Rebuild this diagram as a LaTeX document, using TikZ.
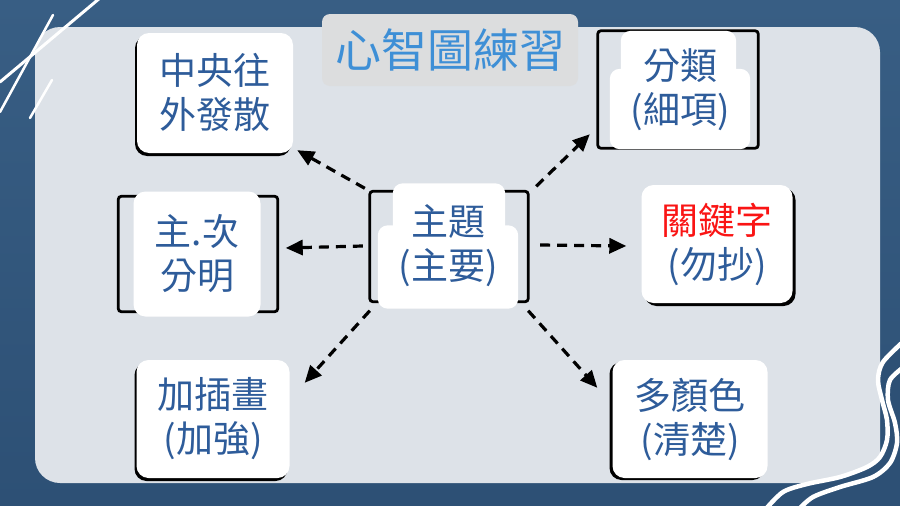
\documentclass[tikz,border=0pt]{standalone}
\usepackage{fontspec}
\usetikzlibrary{arrows.meta,positioning,shadows}
\newfontfamily\cjk{Noto Sans CJK TC}
\definecolor{bgblue}{RGB}{45,80,117}
\definecolor{bgbluelight}{RGB}{56,94,132}
\definecolor{panelgrey}{RGB}{221,226,232}
\definecolor{titlegrey}{RGB}{220,221,222}
\definecolor{titleblue}{RGB}{62,143,214}
\definecolor{textblue}{RGB}{46,92,154}
\definecolor{keyred}{RGB}{250,20,20}
\pgfdeclarelayer{back}
\pgfdeclarelayer{frames}
\pgfsetlayers{back,frames,main}

\begin{document}
\begin{tikzpicture}[x=1pt, y=-1pt,
    card/.style={rectangle, fill=white, rounded corners=12pt, inner sep=0pt,
        align=center, text=textblue, font=\cjk\fontsize{37}{44}\selectfont},
    tabcard/.style={card, fill=none},
    inked/.style 2 args={drop shadow={fill=black, opacity=1,
        shadow xshift=#1, shadow yshift=#2}},
    inkframe/.style={draw=black, line width=2.8pt, rounded corners=3pt},
    tabfill/.style={fill=white, rounded corners=10pt},
    arr/.style={-{Triangle[length=17pt,width=15pt]}, line width=3.2pt,
        dash pattern=on 10pt off 7pt, black}
]
    \useasboundingbox (0,0) rectangle (900,506);
    \begin{pgfonlayer}{back}
    \shade[top color=bgbluelight, bottom color=bgblue] (0,0) rectangle (900,506);
    \fill[panelgrey, rounded corners=25pt] (35,27) rectangle (880,483);

    % strokes, top left and bottom right
    \draw[white, line width=3pt, line cap=round] (0,82) -- (100,-2);
    \draw[white, line width=2.5pt, line cap=round] (0,112) -- (53,15);
    \draw[white, line width=2.5pt, line cap=round] (30,118) -- (52,80);
    \fill[bgblue] plot[smooth] coordinates {(905,340) (883,362) (878,380) (882,400)
        (887,420) (887,440) (880,457) (867,467) (840,477) (807,484) (783,492) (765,510)}
        -- (905,510) -- cycle;
    \draw[white, line width=4.5pt] plot[smooth] coordinates {(905,340) (883,362) (878,380)
        (882,400) (887,420) (887,440) (880,457) (867,467) (840,477) (807,484) (783,492) (765,510)};
    \draw[white, line width=4.5pt] plot[smooth] coordinates {(905,366) (890,380) (888,400)
        (895,423) (897,443) (890,463) (873,477) (840,487) (813,497) (798,510)};
    \end{pgfonlayer}

    \node[fill=titlegrey, rounded corners=8pt, minimum width=256pt, minimum height=72pt,
        text=titleblue, font=\cjk\fontsize{46}{50}\selectfont] (title) at (450,50) {心智圖練習};

    \node[card, inked={-2pt}{-3pt}, minimum width=156pt, minimum height=120pt] (spread) at (215,93) {中央往\\外發散};
    \node[tabcard, minimum width=140pt, minimum height=118pt] (classify) at (680,90) {分類\\(細項)};
    \node[tabcard, minimum width=140pt, minimum height=125pt] (topic) at (448,246) {主題\\(主要)};
    \node[card, minimum width=127pt, minimum height=125pt] (rank) at (197,254) {主.次\\分明};
    \node[card, inked={3pt}{-3pt}, minimum width=151pt, minimum height=118pt] (keyword) at (717,244) {\textcolor{keyred}{關鍵字}\\(勿抄)};
    \node[card, inked={-2pt}{-3pt}, minimum width=153pt, minimum height=118pt] (sketch) at (213,419) {加插畫\\(加強)};
    \node[card, inked={-3pt}{-2pt}, minimum width=155pt, minimum height=118pt] (colours) at (690,419) {多顏色\\(清楚)};

    \begin{pgfonlayer}{frames}
        \draw[inkframe] ([shift={(-12,0)}]classify.north west) rectangle ([shift={(8,-1)}]classify.south east);
        \fill[tabfill] ([shift={(11,0)}]classify.north west) rectangle ([shift={(-14,-70)}]classify.south east);
        \fill[tabfill] ([shift={(0,38)}]classify.north west) rectangle (classify.south east);
        \draw[inkframe] ([shift={(-8,8)}]topic.north west) rectangle ([shift={(10,-7)}]topic.south east);
        \fill[tabfill] ([shift={(15,0)}]topic.north west) rectangle ([shift={(-13,-74)}]topic.south east);
        \fill[tabfill] ([shift={(0,42)}]topic.north west) rectangle (topic.south east);
        \draw[inkframe] ([shift={(-15,5)}]rank.north west) rectangle ([shift={(17,-5)}]rank.south east);
    \end{pgfonlayer}

    \draw[arr] ([shift={(-13,5)}]topic.north west) -- ([shift={(4,-3)}]spread.south east);
    \draw[arr] ([shift={(-15,0)}]topic.west) -- ([shift={(25,-6)}]rank.east);
    \draw[arr] ([shift={(-8,2)}]topic.south west) -- ([shift={(15,23)}]sketch.north east);
    \draw[arr] ([shift={(18,3)}]topic.north east) -- ([shift={(-20,-15)}]classify.south west);
    \draw[arr] ([shift={(22,-1)}]topic.east) -- ([shift={(-15,2)}]keyword.west);
    \draw[arr] ([shift={(10,2)}]topic.south east) -- ([shift={(-15,28)}]colours.north west);
\end{tikzpicture}
\end{document}
